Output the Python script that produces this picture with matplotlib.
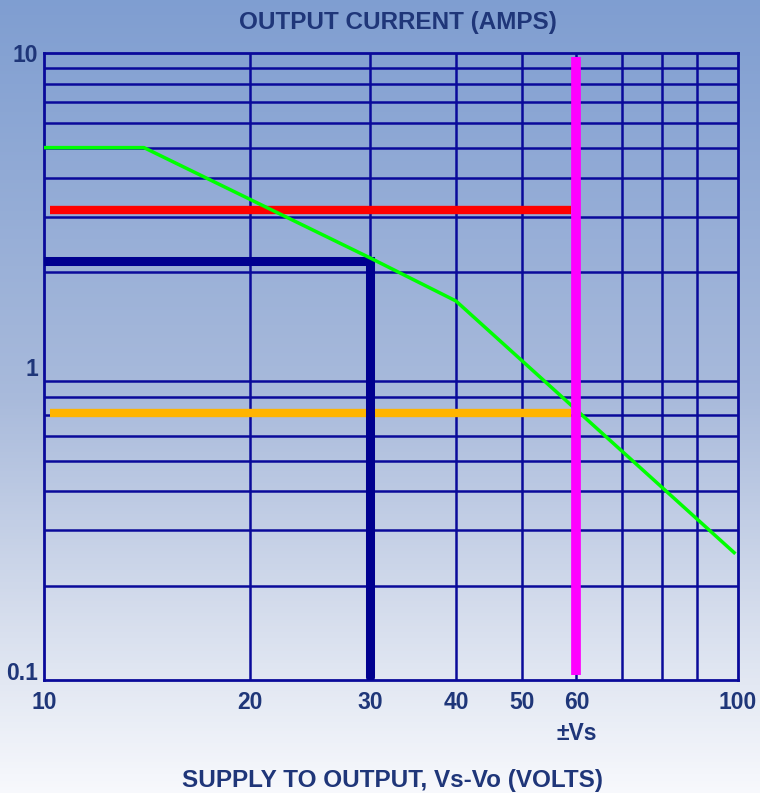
import numpy as np
import matplotlib
matplotlib.use("Agg")
import matplotlib.pyplot as plt
import matplotlib.transforms as mtransforms
from matplotlib.colors import LinearSegmentedColormap

plt.rcParams["font.family"] = ["Liberation Sans", "DejaVu Sans"]

# SOA curve (supply-to-output volts vs output current amps)
soa_v = [10, 14, 30, 40, 102]
soa_i = [5.0, 5.0, 2.22, 1.62, 0.255]

# operating limits
red_i, red_v = 3.15, [10.2, 59]
orange_i, orange_v = 0.71, [10.2, 59]
navy_i, navy_v = 2.17, 30
vs_line = 60

xticks = [10, 20, 30, 40, 50, 60, 100]
xgrid = [20, 30, 40, 50, 60, 70, 80, 90]
ygrid = [0.2, 0.3, 0.4, 0.5, 0.6, 0.7, 0.8, 0.9, 2, 3, 4, 5, 6, 7, 8, 9]
yticks = [0.1, 1, 10]
ylabels = ["0.1", "1", "10"]

navy = "#0a0a9a"
txt = "#1f3679"

fig = plt.figure(figsize=(7.6, 7.93), dpi=100)

# gradient background
bg = fig.add_axes([0, 0, 1, 1], zorder=-10)
cmap = LinearSegmentedColormap.from_list(
    "bg", [(0.0, (0.50, 0.62, 0.82)), (0.5, (0.66, 0.73, 0.86)),
           (0.78, (0.84, 0.87, 0.93)), (1.0, (0.97, 0.975, 0.99))])
bg.imshow(np.linspace(0, 1, 256)[:, None], aspect="auto", cmap=cmap,
          extent=[0, 1, 0, 1])
bg.axis("off")

ax = fig.add_axes([0.0579, 0.1425, 0.913, 0.7903])
ax.patch.set_alpha(0)
ax.set_xscale("log")
ax.set_yscale("log")
ax.set_xlim(10, 103.3)
ax.set_ylim(0.1, 10)

for v in xgrid:
    ax.axvline(v, color=navy, lw=1.8, zorder=1)
for v in ygrid:
    ax.axhline(v, color=navy, lw=1.8, zorder=1)
for s in ax.spines.values():
    s.set_color(navy)
    s.set_linewidth(2)

ax.hlines(red_i, *red_v, color="#ff0000", lw=6, zorder=3)
ax.hlines(orange_i, *orange_v, color="#ffb400", lw=6, zorder=3)
ax.plot([9.9, navy_v, navy_v], [navy_i, navy_i, 0.102], color="#00008f",
        lw=6.5, solid_capstyle="round", solid_joinstyle="miter", zorder=3)
ax.plot(soa_v, soa_i, color="#00ff00", lw=2.5, zorder=4)
ax.vlines(vs_line, 0.104, 9.75, color="#ff00ff", lw=7, zorder=5)

ax.minorticks_off()
ax.set_xticks(xticks)
ax.set_xticklabels([str(v) for v in xticks])
ax.set_yticks(yticks)
ax.set_yticklabels(ylabels)
ax.tick_params(length=0, labelsize=16.5, labelcolor=txt)
ax.tick_params(axis="x", pad=8)
ax.tick_params(axis="y", pad=4)
for lab in ax.get_xticklabels() + ax.get_yticklabels():
    lab.set_fontweight("bold")

# the drawn chart puts "100" at the right border and "0.1" a bit above the base
xl = ax.get_xticklabels()[-1]
xl.set_transform(xl.get_transform() + mtransforms.ScaledTranslation(9 / 100, 0, fig.dpi_scale_trans))
yl = ax.get_yticklabels()[0]
yl.set_transform(yl.get_transform() + mtransforms.ScaledTranslation(0, 9 / 100, fig.dpi_scale_trans))

fig.text(0.524, 0.972, "OUTPUT CURRENT (AMPS)", ha="center", va="center",
         fontsize=17.5, fontweight="bold", color=txt)
ax.text(vs_line, -0.085, "±Vs", transform=ax.get_xaxis_transform(),
        ha="center", va="center", fontsize=16.5, fontweight="bold", color=txt)
fig.text(0.517, 0.016, "SUPPLY TO OUTPUT, Vs-Vo (VOLTS)", ha="center",
         va="center", fontsize=17.5, fontweight="bold", color=txt)

fig.savefig("out.png", dpi=100)
